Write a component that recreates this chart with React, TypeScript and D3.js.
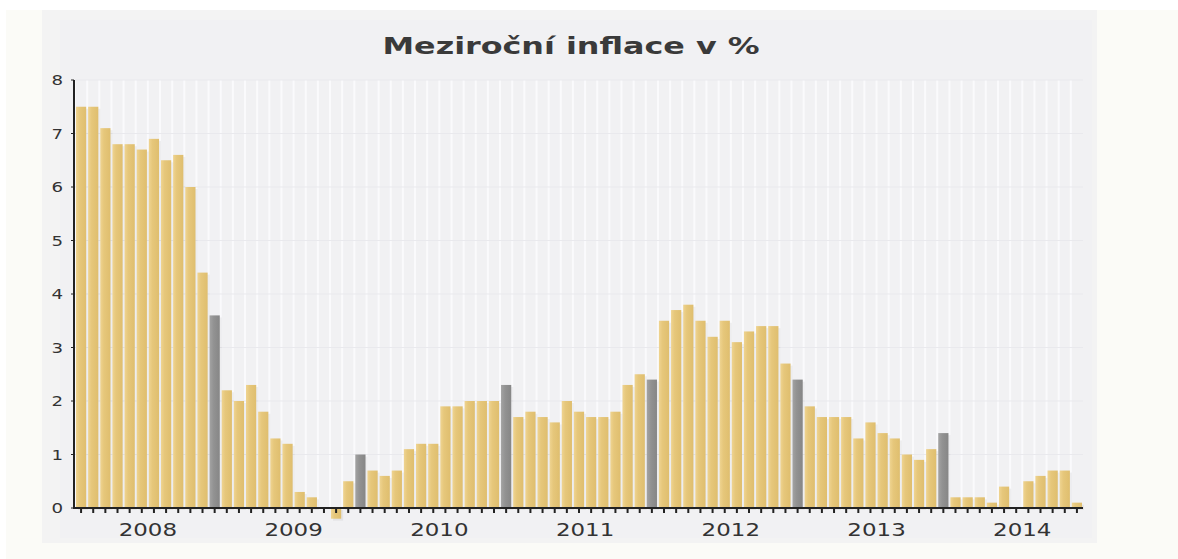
import React from "react";
import * as d3 from "d3";

const title = "Meziroční inflace v %";
const years = ["2008", "2009", "2010", "2011", "2012", "2013", "2014"];
const values2008 = [7.5, 7.5, 7.1, 6.8, 6.8, 6.7, 6.9, 6.5, 6.6, 6.0, 4.4, 3.6];
const values2009 = [2.2, 2.0, 2.3, 1.8, 1.3, 1.2, 0.3, 0.2, 0.0, -0.2, 0.5, 1.0];
const values2010 = [0.7, 0.6, 0.7, 1.1, 1.2, 1.2, 1.9, 1.9, 2.0, 2.0, 2.0, 2.3];
const values2011 = [1.7, 1.8, 1.7, 1.6, 2.0, 1.8, 1.7, 1.7, 1.8, 2.3, 2.5, 2.4];
const values2012 = [3.5, 3.7, 3.8, 3.5, 3.2, 3.5, 3.1, 3.3, 3.4, 3.4, 2.7, 2.4];
const values2013 = [1.9, 1.7, 1.7, 1.7, 1.3, 1.6, 1.4, 1.3, 1.0, 0.9, 1.1, 1.4];
const values2014 = [0.2, 0.2, 0.2, 0.1, 0.4, 0.0, 0.5, 0.6, 0.7, 0.7, 0.1];
const yTicks = [0, 1, 2, 3, 4, 5, 6, 7, 8];

const allValues = [values2008, values2009, values2010, values2011, values2012, values2013, values2014];

type Pt = { i: number; year: number; month: number; v: number };
const data: Pt[] = [];
allValues.forEach((arr, yi) =>
  arr.forEach((v, m) => data.push({ i: data.length, year: yi, month: m, v }))
);

export default function App() {
  const W = 1178;
  const H = 559;
  const left = 75;
  const right = 1083;
  const y0 = 508;
  const yTop = 80;

  const x = d3
    .scaleBand<number>()
    .domain(data.map((d) => d.i))
    .range([left, right])
    .paddingInner(0.16)
    .paddingOuter(0.08);
  const y = d3.scaleLinear().domain([0, 8]).range([y0, yTop]);
  const step = x.step();
  const bw = x.bandwidth();

  const center = (i: number) => (x(i) as number) + bw / 2;

  return (
    <svg
      width={W}
      height={H}
      style={{ position: "absolute", left: 0, top: 0, display: "block" }}
    >
      <defs>
        <linearGradient id="gold" x1="0" x2="1" y1="0" y2="0">
          <stop offset="0" stopColor="#efd491" />
          <stop offset="0.35" stopColor="#e6c77b" />
          <stop offset="1" stopColor="#dfbe6e" />
        </linearGradient>
        <linearGradient id="grey" x1="0" x2="1" y1="0" y2="0">
          <stop offset="0" stopColor="#a3a3a3" />
          <stop offset="0.4" stopColor="#929292" />
          <stop offset="1" stopColor="#868686" />
        </linearGradient>
      </defs>
      <rect x={0} y={0} width={W} height={H} fill="#ffffff" />
      <rect x={6} y={10} width={W - 6} height={H - 10} fill="#fbfbf7" />
      <rect x={42} y={10} width={1055} height={533} fill="#f3f3f3" />
      <rect x={60} y={20} width={1032} height={518} fill="#f1f1f3" />

      {/* vertical grid stripes */}
      {data.map((d) => (
        <line
          key={"vg" + d.i}
          x1={(x(d.i) as number) - (step - bw) / 2}
          x2={(x(d.i) as number) - (step - bw) / 2}
          y1={yTop}
          y2={y0}
          stroke="#fafafc"
          strokeWidth={2}
        />
      ))}
      {/* horizontal grid */}
      {yTicks.slice(1).map((t) => (
        <line
          key={"hg" + t}
          x1={left}
          x2={right}
          y1={y(t)}
          y2={y(t)}
          stroke="#e9e9ed"
          strokeWidth={1}
        />
      ))}

      {/* bar shadows */}
      {data.map((d) => (
        <rect
          key={"s" + d.i}
          x={(x(d.i) as number) + 2}
          y={Math.min(y(d.v), y(0)) + 2}
          width={bw}
          height={Math.abs(y(d.v) - y(0))}
          fill="#000"
          opacity={0.05}
        />
      ))}
      {/* bars */}
      {data.map((d) => (
        <rect
          key={"b" + d.i}
          x={x(d.i) as number}
          y={Math.min(y(d.v), y(0))}
          width={bw}
          height={Math.abs(y(d.v) - y(0))}
          fill={d.month === 11 ? "url(#grey)" : "url(#gold)"}
        />
      ))}

      {/* axes */}
      <line x1={left - 1} x2={left - 1} y1={yTop} y2={y0 + 1} stroke="#222" strokeWidth={2} />
      <line x1={left - 1} x2={right} y1={y0} y2={y0} stroke="#222" strokeWidth={2} />
      {yTicks.map((t) => (
        <g key={"yt" + t}>
          <line x1={left - 4} x2={left - 1} y1={y(t)} y2={y(t)} stroke="#222" strokeWidth={1} />
          <text
            transform={`translate(${left - 12},${y(t) + 5}) scale(1.3,1)`}
            textAnchor="end"
            fontFamily="DejaVu Sans, Verdana, sans-serif"
            fontSize={14}
            fill="#333"
          >
            {t}
          </text>
        </g>
      ))}
      {data.map((d) => (
        <line
          key={"xt" + d.i}
          x1={center(d.i)}
          x2={center(d.i)}
          y1={y0}
          y2={y0 + 5}
          stroke="#222"
          strokeWidth={2}
        />
      ))}
      {years.map((yr, k) => {
        const cx = (x(0) as number) + (k * 12 + 6) * step - (step - bw) / 2;
        return (
          <text
            key={"yl" + yr}
            transform={`translate(${cx},${536}) scale(1.35,1)`}
            textAnchor="middle"
            fontFamily="DejaVu Sans, Verdana, sans-serif"
            fontSize={17}
            fill="#333"
          >
            {yr}
          </text>
        );
      })}

      <text
        x={571}
        y={54}
        textAnchor="middle"
        fontFamily="DejaVu Sans, Verdana, sans-serif"
        fontWeight="bold"
        fontSize={23}
        fill="#3a3a3a"
        textLength={377}
        lengthAdjust="spacingAndGlyphs"
      >
        {title}
      </text>
    </svg>
  );
}
